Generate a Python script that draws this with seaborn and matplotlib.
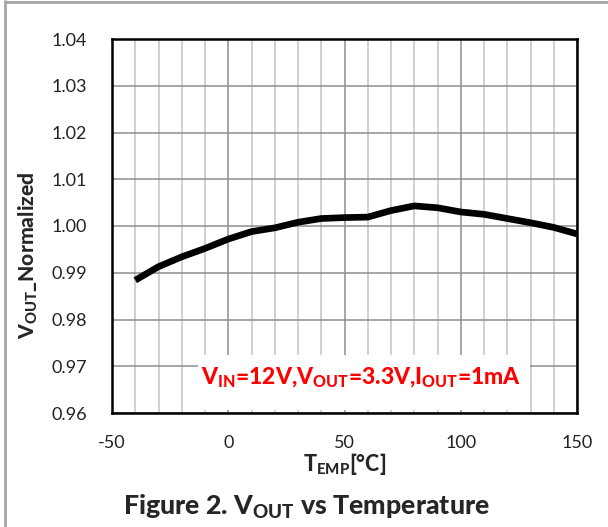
import numpy as np
import pandas as pd
import matplotlib
matplotlib.use("Agg")
import matplotlib.pyplot as plt
from matplotlib.lines import Line2D
from matplotlib.patches import Rectangle
from matplotlib.ticker import MultipleLocator
import seaborn as sns

temperature = [-40, -30, -20, -10, 0, 10, 20, 30, 40, 50, 60, 70, 80, 90, 100, 110, 120, 130, 140, 150]
vout_norm = [0.9884, 0.9913, 0.9934, 0.9952, 0.9972, 0.9988, 0.9996, 1.0008, 1.0016, 1.0018,
             1.0019, 1.0033, 1.0043, 1.0039, 1.0030, 1.0025, 1.0016, 1.0007, 0.9997, 0.9983]
x_ticks = [-50, 0, 50, 100, 150]
y_ticks = [0.96, 0.97, 0.98, 0.99, 1.00, 1.01, 1.02, 1.03, 1.04]

df = pd.DataFrame({"T": temperature, "V": vout_norm})

sns.set_theme(style="white")
plt.rcParams["font.family"] = ["Lato", "DejaVu Sans"]
plt.rcParams["mathtext.fontset"] = "custom"
plt.rcParams["mathtext.rm"] = "Lato"
plt.rcParams["mathtext.bf"] = "Lato:black"
plt.rcParams["mathtext.it"] = "Lato:italic"

fig = plt.figure(figsize=(6.08, 5.27), dpi=100)
ax = fig.add_axes([112/608, 1-413/527, (577-112)/608, (413-39)/527])

# grid
ax.set_xlim(-50, 150)
ax.set_ylim(0.96, 1.04)
ax.xaxis.set_major_locator(MultipleLocator(50))
ax.xaxis.set_minor_locator(MultipleLocator(10))
ax.yaxis.set_major_locator(MultipleLocator(0.01))
ax.grid(which="minor", axis="x", color="#c4c4c4", linewidth=1.1)
ax.grid(which="major", axis="x", color="#8e8e8e", linewidth=1.1)
ax.grid(which="major", axis="y", color="#8e8e8e", linewidth=1.1)
ax.set_axisbelow(True)

sns.lineplot(data=df, x="T", y="V", ax=ax, color="black", linewidth=4.8,
             solid_capstyle="butt", zorder=3)

ax.set_xticks(x_ticks)
ax.set_xticklabels([str(t) for t in x_ticks])
ax.set_yticks(y_ticks)
ax.set_yticklabels([f"{t:.2f}" for t in y_ticks])
ax.tick_params(axis="both", which="both", length=0, labelsize=13, colors="#222222")
ax.tick_params(axis="x", pad=16)
ax.tick_params(axis="y", pad=18)

for s in ax.spines.values():
    s.set_color("black")
    s.set_linewidth(1.8)

ax.set_xlabel(r"T$_\mathbf{EMP}$[°C]", fontsize=15.5, fontweight="black", labelpad=0)
ax.set_ylabel(r"V$_\mathbf{OUT}$_Normalized", fontsize=15.2, fontweight="black", labelpad=6)
ax.yaxis.set_label_coords(-0.155, 0.4225)

# annotation box
ax.add_patch(Rectangle((0.185, 0.008), 0.714, 0.147, transform=ax.transAxes,
                       facecolor="white", edgecolor="none", zorder=3.5))
ax.text(0.5366, 0.093, r"V$_\mathbf{IN}$=12V,V$_\mathbf{OUT}$=3.3V,I$_\mathbf{OUT}$=1mA",
        transform=ax.transAxes, ha="center", va="center", color="#ff0000",
        fontsize=16.5, fontweight="black", zorder=4)

fig.text(306/608, 1-507/527, r"Figure 2. V$_\mathbf{OUT}$ vs Temperature",
         ha="center", va="center", fontsize=19.3, fontweight="black")

# page frame lines
fig.add_artist(Line2D([5/608, 5/608], [0, 1-1/527], transform=fig.transFigure,
                      color="#a6a6a6", linewidth=2))
fig.add_artist(Line2D([5/608, 1], [1-2/527, 1-2/527], transform=fig.transFigure,
                      color="#a6a6a6", linewidth=2))

fig.savefig("out.png", dpi=100)
